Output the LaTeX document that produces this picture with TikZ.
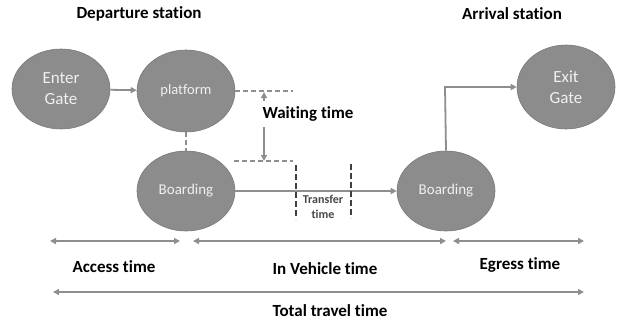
\documentclass[tikz,border=0pt]{standalone}
\usepackage{fontspec}
\setmainfont{Carlito}[Ligatures=NoCommon]
\usetikzlibrary{arrows.meta,shapes.geometric}
\definecolor{ellfill}{HTML}{8C8C8C}
\definecolor{elledge}{HTML}{7A7A7A}
\definecolor{linegray}{HTML}{8E8E8E}
\definecolor{dashdark}{HTML}{404040}
\tikzset{
  station/.style={ellipse, fill=ellfill, draw=elledge, line width=0.6pt, minimum width=98pt, minimum height=80pt, inner sep=0pt, text=white!94!black, align=center, font=\fontsize{17}{21}\selectfont},
  smalltxt/.style={font=\fontsize{15}{17}\selectfont},
  flow/.style={draw=linegray, line width=1.8pt, -{Triangle[length=6pt,width=6pt]}},
  span/.style={draw=linegray, line width=1.8pt, {Triangle[length=6pt,width=6pt]}-{Triangle[length=6pt,width=6pt]}},
  dashg/.style={draw=linegray, line width=1.5pt, dash pattern=on 5pt off 3pt},
  dashk/.style={draw=dashdark, line width=1.5pt, dash pattern=on 6pt off 3pt},
  lbl/.style={font=\bfseries\fontsize{17}{20}\selectfont, text=black},
}
\begin{document}
\begin{tikzpicture}[x=1pt,y=-1pt]
\useasboundingbox (0,0) rectangle (618,321);
\node[lbl] (dep) at (139,14) {Departure station};
\node[lbl] (arr) at (512,14) {Arrival station};

\node[station] (enter) at (61,89) {Enter\\Gate};
\node[station, minimum height=82pt, font=\fontsize{14.5}{17}\selectfont] (plat) at (186,91) {platform};
\node[station, smalltxt] (board1) at (186,191) {Boarding};
\node[station, smalltxt] (board2) at (446,191) {Boarding};
\node[station, minimum height=84pt] (exitg) at (566,87) {Exit\\Gate};

\draw[flow] (enter) -- (plat);
\coordinate (pr) at (293,91);
\draw[dashg] (plat.east) -- (pr);
\draw[dashg] (plat.south) -- (board1.north);
\coordinate (lr) at (293,161);
\coordinate (ll) at (234,161);
\draw[dashg] (ll) -- (lr);

\node[lbl] (wait) at (308,114) {Waiting time};
\coordinate (wu1) at (264,101);
\coordinate (wu2) at (264,92);
\coordinate (wd1) at (264,127);
\coordinate (wd2) at (264,161);
\draw[flow, line width=1.5pt] (wu1) -- (wu2);
\draw[flow, line width=1.5pt] (wd1) -- (wd2);

\draw[flow] (board1) -- (board2);
\coordinate (t1a) at (296,165);
\coordinate (t1b) at (296,219);
\coordinate (t2a) at (351,164);
\coordinate (t2b) at (351,218);
\draw[dashk] (t1a) -- (t1b);
\draw[dashk] (t2a) -- (t2b);
\node[font=\bfseries\fontsize{12}{15}\selectfont, text=dashdark!90!gray, align=center] (tr) at (323,207) {Transfer\\time};

\coordinate (corner) at (445,87);
\draw[flow] (board2.north) -- (corner) -- (exitg.west);

\coordinate (a1) at (50,241);
\coordinate (a2) at (180,241);
\coordinate (v1) at (193,241);
\coordinate (v2) at (446,241);
\coordinate (e1) at (453,241);
\coordinate (e2) at (584,241);
\coordinate (tt1) at (53,292);
\coordinate (tt2) at (584,292);
\draw[span] (a1) -- (a2);
\draw[span] (v1) -- (v2);
\draw[span] (e1) -- (e2);
\draw[span] (tt1) -- (tt2);

\node[lbl] (acc) at (114,267) {Access time};
\node[lbl] (inv) at (325,269) {In Vehicle time};
\node[lbl] (egr) at (520,265) {Egress time};
\node[lbl] (tot) at (330,311) {Total travel time};
\end{tikzpicture}
\end{document}
